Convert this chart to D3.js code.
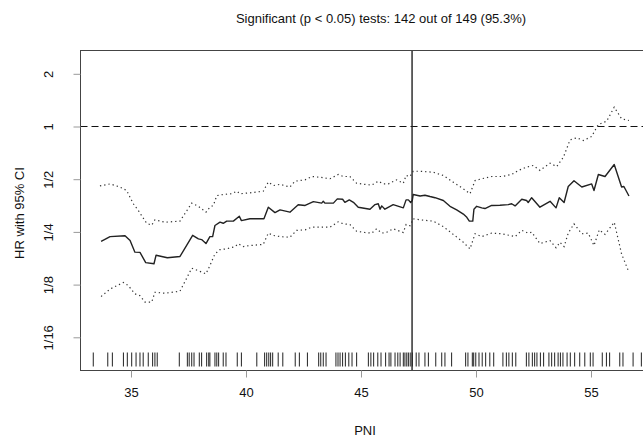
<!DOCTYPE html>
<html>
<head>
<meta charset="utf-8">
<title>HR with 95% CI by PNI</title>
<script src="https://cdnjs.cloudflare.com/ajax/libs/d3/7.8.5/d3.min.js"></script>
<style>
  body { margin: 0; background: #fff; }
  svg { display: block; }
  text { font-family: "Liberation Sans", Arial, Helvetica, sans-serif; fill: #111; }
</style>
</head>
<body>
<svg width="643" height="439"></svg>
<script>
// cut point (PNI) and titles
const cutPoint = 47.22;
const titleText = 'Significant (p < 0.05) tests: 142 out of 149 (95.3%)';
const xTicks = [35, 40, 45, 50, 55];
const yTicks = [1/16, 1/8, 1/4, 1/2, 1, 2];
const yTickLabels = ['1/16', '1/8', '1/4', '1/2', '1', '2'];

// hazard ratio estimate [PNI, HR]
const estimate = [
  [33.70,0.221],[34.09,0.235],[34.74,0.2375],[34.96,0.223],[35.17,0.1915],[35.39,0.191],
  [35.64,0.167],[36.00,0.1644],[36.09,0.184],[36.58,0.178],[37.13,0.181],[37.68,0.239],
  [37.93,0.228],[38.07,0.226],[38.26,0.2145],[38.43,0.235],[38.55,0.235],[38.65,0.272],
  [38.87,0.284],[39.01,0.280],[39.16,0.288],[39.45,0.288],[39.71,0.307],[39.80,0.290],
  [40.17,0.297],[40.78,0.297],[40.97,0.346],[41.26,0.322],[41.48,0.334],[41.91,0.324],
  [42.27,0.357],[42.57,0.354],[42.93,0.372],[43.29,0.365],[43.36,0.374],[43.43,0.365],
  [43.80,0.365],[43.97,0.386],[44.20,0.384],[44.30,0.369],[44.49,0.381],[44.67,0.369],
  [44.88,0.346],[45.39,0.337],[45.61,0.358],[45.75,0.362],[45.83,0.337],[45.90,0.352],
  [46.04,0.337],[46.40,0.358],[46.84,0.343],[46.96,0.381],[47.06,0.381],[47.16,0.368],
  [47.23,0.378],[47.27,0.409],[47.57,0.401],[47.78,0.405],[48.00,0.398],[48.22,0.392],
  [48.58,0.378],[48.87,0.350],[49.16,0.334],[49.45,0.316],[49.60,0.303],[49.71,0.288],
  [49.86,0.288],[49.91,0.337],[50.03,0.350],[50.25,0.343],[50.39,0.340],[50.68,0.354],
  [51.04,0.355],[51.40,0.358],[51.55,0.362],[51.70,0.352],[51.99,0.384],[52.20,0.378],
  [52.27,0.368],[52.42,0.392],[52.78,0.346],[53.22,0.374],[53.48,0.343],[53.62,0.392],
  [53.83,0.368],[54.01,0.454],[54.26,0.490],[54.60,0.451],[55.03,0.470],[55.13,0.431],
  [55.32,0.532],[55.61,0.518],[56.01,0.607],[56.33,0.451],[56.43,0.454],[56.65,0.401]
];

// upper 95% limit [PNI, HR]
const upper = [
  [33.65,0.458],[34.09,0.470],[34.52,0.451],[34.81,0.431],[35.10,0.362],[35.32,0.331],
  [35.68,0.280],[35.90,0.273],[36.04,0.293],[36.48,0.284],[37.13,0.288],[37.64,0.365],
  [37.93,0.350],[38.26,0.324],[38.43,0.346],[38.58,0.354],[38.73,0.403],[39.01,0.409],
  [39.38,0.413],[39.60,0.427],[39.74,0.413],[40.17,0.418],[40.75,0.427],[40.97,0.481],
  [41.19,0.460],[41.48,0.467],[41.91,0.451],[42.13,0.487],[42.57,0.496],[42.86,0.518],
  [43.22,0.513],[43.65,0.503],[44.01,0.532],[44.23,0.518],[44.52,0.518],[44.81,0.474],
  [45.17,0.467],[45.47,0.463],[45.75,0.487],[45.97,0.470],[46.19,0.470],[46.55,0.496],
  [46.84,0.474],[46.96,0.525],[47.13,0.518],[47.27,0.555],[47.57,0.555],[48.14,0.548],
  [48.58,0.525],[49.01,0.481],[49.38,0.447],[49.74,0.413],[49.96,0.491],[50.25,0.503],
  [50.68,0.518],[51.12,0.518],[51.55,0.532],[51.84,0.561],[52.20,0.586],[52.49,0.599],
  [52.78,0.561],[53.22,0.617],[53.51,0.590],[53.80,0.668],[54.09,0.839],[54.38,0.862],
  [54.67,0.832],[55.03,0.877],[55.25,0.991],[55.32,1.027],[55.68,1.072],[56.01,1.289],
  [56.33,1.107],[56.65,1.082]
];

// lower 95% limit [PNI, HR]
const lower = [
  [33.70,0.107],[34.09,0.118],[34.67,0.1285],[34.88,0.1235],[35.17,0.1107],[35.39,0.108],
  [35.61,0.0992],[35.90,0.0992],[36.04,0.113],[36.48,0.1116],[37.13,0.1146],[37.64,0.155],
  [37.93,0.150],[38.26,0.144],[38.43,0.1605],[38.65,0.187],[38.87,0.198],[39.16,0.200],
  [39.52,0.206],[39.67,0.214],[39.88,0.206],[40.17,0.209],[40.75,0.212],[40.97,0.246],
  [41.19,0.2385],[41.48,0.235],[41.91,0.233],[42.20,0.255],[42.57,0.257],[42.86,0.266],
  [43.22,0.266],[43.65,0.266],[44.01,0.2855],[44.23,0.278],[44.52,0.2755],[44.81,0.252],
  [45.17,0.248],[45.47,0.246],[45.68,0.2605],[45.90,0.246],[46.12,0.249],[46.40,0.2605],
  [46.84,0.248],[46.96,0.2755],[47.13,0.271],[47.27,0.297],[47.57,0.293],[48.14,0.288],
  [48.58,0.268],[49.01,0.242],[49.45,0.218],[49.74,0.200],[49.96,0.244],[50.25,0.235],
  [50.68,0.246],[51.12,0.244],[51.70,0.235],[51.99,0.255],[52.27,0.246],[52.42,0.249],
  [52.78,0.2145],[53.22,0.223],[53.48,0.203],[53.65,0.218],[53.83,0.206],[54.01,0.246],
  [54.26,0.278],[54.60,0.244],[54.88,0.246],[55.13,0.209],[55.36,0.257],[55.61,0.242],
  [56.01,0.284],[56.33,0.187],[56.65,0.147]
];

// observed PNI values (rug)
const rugValues = [
  33.36,33.99,34.19,34.67,34.84,35.03,35.22,35.39,35.53,35.75,35.94,36.04,36.14,
  37.10,37.45,37.53,37.64,37.74,37.97,38.07,38.29,38.38,38.43,38.65,38.73,38.81,39.01,39.13,
  39.62,39.80,40.47,40.81,40.90,40.99,41.07,41.16,41.40,41.60,42.14,42.32,42.67,
  43.16,43.25,43.36,43.48,43.91,44.00,44.09,44.20,44.32,44.47,44.61,44.81,
  45.32,45.43,45.55,45.73,45.87,46.07,46.22,46.30,46.48,46.60,46.70,46.84,46.91,46.99,
  47.06,47.14,47.23,47.40,47.52,47.78,47.93,48.25,48.51,48.65,48.94,
  49.55,49.65,49.84,49.90,49.99,50.13,50.27,50.42,50.60,50.77,51.17,51.32,51.43,51.58,51.73,
  52.19,52.30,52.45,52.55,52.65,52.80,52.94,53.17,53.29,53.42,53.57,53.67,53.78,53.96,
  54.10,54.29,54.51,54.73,54.97,55.09,55.49,55.67,55.81,56.25,56.39,56.83,57.19
];

const svg = d3.select('svg');

const x = d3.scaleLinear().domain([35, 55]).range([131, 591]);
const y = d3.scaleLog().base(2).domain([1/16, 2]).range([337.3, 73.8]);

const box = { left: 80.5, top: 50.5, bottom: 370.5, right: 720 };

// clip for plot area
svg.append('defs').append('clipPath').attr('id', 'plotclip')
  .append('rect')
  .attr('x', box.left).attr('y', box.top)
  .attr('width', box.right - box.left).attr('height', box.bottom - box.top);

const plot = svg.append('g').attr('clip-path', 'url(#plotclip)');

// reference line at HR = 1
plot.append('line')
  .attr('x1', box.left).attr('x2', box.right)
  .attr('y1', y(1)).attr('y2', y(1))
  .attr('stroke', '#111').attr('stroke-width', 1)
  .attr('stroke-dasharray', '7,4');

const line = d3.line().x(d => x(d[0])).y(d => y(d[1]));

plot.append('path').datum(upper)
  .attr('d', line).attr('fill', 'none')
  .attr('stroke', '#333').attr('stroke-width', 1.2)
  .attr('stroke-dasharray', '1.3,3');

plot.append('path').datum(lower)
  .attr('d', line).attr('fill', 'none')
  .attr('stroke', '#333').attr('stroke-width', 1.2)
  .attr('stroke-dasharray', '1.3,3');

plot.append('path').datum(estimate)
  .attr('d', line).attr('fill', 'none')
  .attr('stroke', '#222').attr('stroke-width', 1.4)
  .attr('stroke-linejoin', 'round');

// cut point line
plot.append('line')
  .attr('x1', x(cutPoint)).attr('x2', x(cutPoint))
  .attr('y1', box.top).attr('y2', box.bottom)
  .attr('stroke', '#222').attr('stroke-width', 1.4);

// rug
plot.selectAll('.rug')
  .data(rugValues)
  .enter()
  .append('line')
  .attr('class', 'rug')
  .attr('x1', d => x(d)).attr('x2', d => x(d))
  .attr('y1', 352.5).attr('y2', 366.5)
  .attr('stroke', '#222').attr('stroke-width', 1);

// frame
svg.append('rect')
  .attr('x', box.left).attr('y', box.top)
  .attr('width', box.right - box.left).attr('height', box.bottom - box.top)
  .attr('fill', 'none').attr('stroke', '#444').attr('stroke-width', 1);

// x axis
const xAxis = svg.append('g')
  .attr('transform', `translate(0,${box.bottom})`)
  .call(d3.axisBottom(x).tickValues(xTicks).tickSize(7).tickPadding(10).tickFormat(d3.format('d')));
xAxis.select('.domain').remove();
xAxis.selectAll('line').attr('stroke', '#999');
xAxis.selectAll('text').attr('font-size', 13).style('font-family', '"Liberation Sans", Arial, sans-serif').attr('fill', '#111');

// y axis
const yAxis = svg.append('g')
  .attr('transform', `translate(${box.left},0)`)
  .call(d3.axisLeft(y).tickValues(yTicks).tickSize(7)
    .tickFormat((d, i) => yTickLabels[i]));
yAxis.select('.domain').remove();
yAxis.selectAll('line').attr('stroke', '#999');
yAxis.selectAll('text')
  .attr('x', null).attr('dy', null)
  .attr('text-anchor', 'middle')
  .attr('transform', 'translate(-28,0) rotate(-90)')
  .attr('font-size', 13).style('font-family', '"Liberation Sans", Arial, sans-serif').attr('fill', '#111');

// labels
svg.append('text')
  .attr('x', 381).attr('y', 23)
  .attr('text-anchor', 'middle').attr('font-size', 13)
  .text(titleText);

svg.append('text')
  .attr('x', 365).attr('y', 435)
  .attr('text-anchor', 'middle').attr('font-size', 13)
  .text('PNI');

svg.append('text')
  .attr('transform', 'translate(24,213) rotate(-90)')
  .attr('text-anchor', 'middle').attr('font-size', 13)
  .text('HR with 95% CI');
</script>
</body>
</html>
